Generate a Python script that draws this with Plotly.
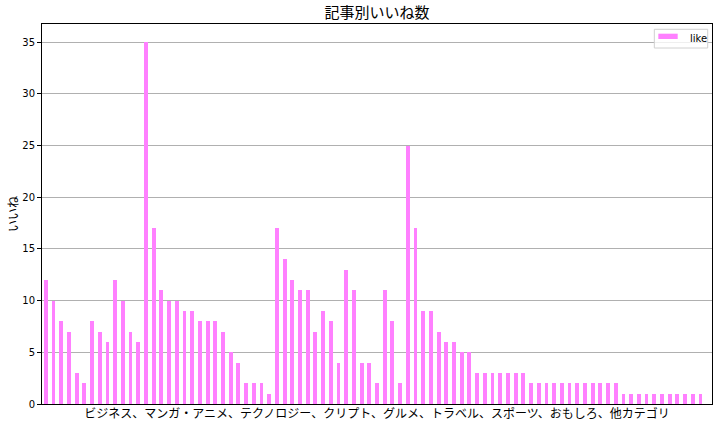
import plotly.graph_objects as go

likes = [12, 10, 8, 7, 3, 2, 8, 7, 6, 12, 10, 7, 6,
         35, 17, 11, 10, 10, 9, 9,
         8, 8, 8, 7, 5, 4, 2, 2, 2, 1,
         17, 14, 12, 11, 11, 7, 9, 8, 4, 13, 11, 4, 4,
         2, 11, 8, 2, 25, 17, 9, 9, 7, 6, 6, 5, 5,
         3, 3, 3, 3, 3, 3, 3,
         2, 2, 2, 2, 2, 2, 2, 2, 2, 2, 2, 2,
         1, 1, 1, 1, 1, 1, 1, 1, 1, 1, 1]
positions = list(range(len(likes)))
y_ticks = [0, 5, 10, 15, 20, 25, 30, 35]
title = "記事別いいね数"
x_label = "ビジネス、マンガ・アニメ、テクノロジー、クリプト、グルメ、トラベル、スポーツ、おもしろ、他カテゴリ"
y_label = "いいね"
series_name = "like"
bar_color = "#FF80FF"

FONT = "Noto Sans CJK JP, DejaVu Sans, sans-serif"

fig = go.Figure()
fig.add_trace(go.Bar(
    x=positions, y=likes, name=series_name, width=0.5,
    marker=dict(color=bar_color, line=dict(width=0)),
    showlegend=False,
))

# matplotlib-style legend box (upper right)
fig.add_shape(type="rect", xref="paper", yref="paper",
              x0=0.9139, x1=0.9936, y0=0.9368, y1=0.9861,
              line=dict(color="#d0d0d0", width=1), fillcolor="rgba(255,255,255,0.8)")
fig.add_shape(type="rect", xref="paper", yref="paper",
              x0=0.9199, x1=0.9488, y0=0.9605, y1=0.9745,
              line=dict(width=0), fillcolor=bar_color)
fig.add_annotation(text=series_name, xref="paper", yref="paper", x=0.9637, y=0.963,
                   xanchor="left", yanchor="middle", showarrow=False,
                   font=dict(size=10, family="DejaVu Sans", color="black"))

fig.update_layout(
    width=722, height=427,
    margin=dict(l=42, r=10, t=24, b=23),
    paper_bgcolor="white", plot_bgcolor="white",
    font=dict(family=FONT, color="black", size=10),
    title=dict(text=title, x=0.522, xanchor="center", y=1 - 12.5 / 427, yanchor="middle",
               yref="container", font=dict(size=15, family=FONT)),
    showlegend=False,
    bargap=0,
)
fig.update_xaxes(
    range=[-0.5, 86.5], showticklabels=False, ticks="", showgrid=False,
    showline=True, mirror=True, linecolor="black", linewidth=1, zeroline=False,
    title=dict(text=x_label, font=dict(size=12, family=FONT), standoff=5),
    automargin=False,
)
fig.update_yaxes(
    range=[0, 36.75], tickvals=y_ticks, ticks="outside", ticklen=4, tickcolor="black",
    showgrid=True, gridcolor="#b0b0b0", gridwidth=1,
    showline=True, mirror=True, linecolor="black", linewidth=1, zeroline=False,
    tickfont=dict(size=10, family="DejaVu Sans"),
    title=dict(text=y_label, font=dict(size=12, family=FONT), standoff=1),
    automargin=False,
)

fig.write_html("out.html", config={"displayModeBar": False},
               post_script="document.body.style.margin='0';")
